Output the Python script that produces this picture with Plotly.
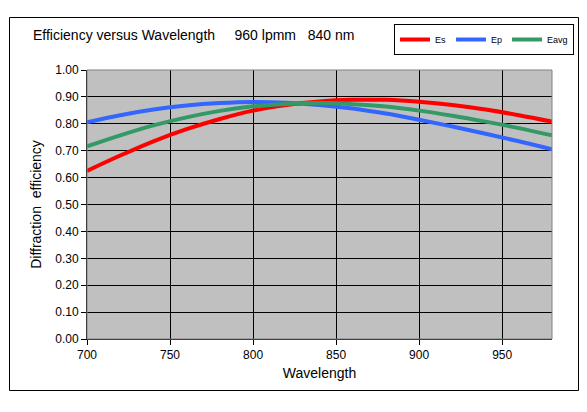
import plotly.graph_objects as go

wavelength = [700, 720, 740, 760, 780, 800, 820, 840, 860, 880, 900, 920, 940, 960, 980]
es = [0.625, 0.682, 0.735, 0.780, 0.818, 0.849, 0.870, 0.883, 0.889, 0.889, 0.882, 0.870, 0.853, 0.832, 0.808]
ep = [0.806, 0.832, 0.853, 0.868, 0.877, 0.881, 0.878, 0.870, 0.857, 0.838, 0.815, 0.790, 0.763, 0.735, 0.705]
eavg = [0.716, 0.757, 0.794, 0.824, 0.848, 0.865, 0.874, 0.877, 0.873, 0.864, 0.849, 0.830, 0.808, 0.784, 0.757]

x_ticks = [700, 750, 800, 850, 900, 950]
y_ticks = [0.0, 0.1, 0.2, 0.3, 0.4, 0.5, 0.6, 0.7, 0.8, 0.9, 1.0]

FONT = "Liberation Sans, Arial, sans-serif"

fig = go.Figure()
for name, vals, col in [("Es", es, "#FF0000"), ("Ep", ep, "#3366FF"), ("Eavg", eavg, "#339966")]:
    fig.add_trace(go.Scatter(x=wavelength, y=vals, name=name, mode="lines",
                             line=dict(color=col, width=4, shape="spline")))

# page draws the figure offset by 8px (body margin); work in reference coords
OFF = 8
W, H = 587 - 2 * OFF, 412 - 2 * OFF
L, T = 87 - OFF, 70 - OFF
R = W - (552 - OFF)
B = H - (339 - OFF)
pw, ph = W - L - R, H - T - B

def px(x):
    return (x - OFF - L) / pw

def py(y):
    return (H - B - (y - OFF)) / ph

fig.update_layout(
    width=W, height=H, autosize=False,
    margin=dict(l=L, r=R, t=T, b=B, autoexpand=False),
    paper_bgcolor="white",
    plot_bgcolor="#C0C0C0",
    font=dict(family=FONT, color="black", size=12),
    title=dict(text="Efficiency versus Wavelength     960 lpmm   840 nm",
               x=(33 - OFF) / W, xanchor="left", xref="container",
               y=1 - (35 - OFF) / H, yanchor="middle", yref="container",
               font=dict(size=14, family=FONT)),
    showlegend=True,
    legend=dict(orientation="h", x=px(574), xanchor="right", y=py(24), yanchor="top",
                bordercolor="black", borderwidth=1, bgcolor="white",
                font=dict(size=9, family=FONT), itemwidth=30,
                entrywidth=0, tracegroupgap=0),
    xaxis=dict(range=[700, 980], tickvals=x_ticks, ticktext=[str(v) for v in x_ticks],
               showgrid=True, gridcolor="black", gridwidth=1,
               ticks="outside", ticklen=5, tickcolor="black",
               showline=True, linecolor="black", linewidth=1,
               zeroline=False,
               title=dict(text="Wavelength", font=dict(size=14, family=FONT), standoff=6),
               tickfont=dict(size=12, family=FONT)),
    yaxis=dict(range=[0, 1.0], tickvals=y_ticks, tickformat=".2f",
               showgrid=True, gridcolor="black", gridwidth=1,
               ticks="outside", ticklen=5, tickcolor="black",
               showline=True, linecolor="black", linewidth=1,
               zeroline=False,
               title=dict(text="Diffraction  efficiency", font=dict(size=14, family=FONT), standoff=10),
               tickfont=dict(size=12, family=FONT)),
)

# plot area border (gray top/right)
fig.add_shape(type="rect", xref="paper", yref="paper", x0=0, y0=0, x1=1, y1=1,
              line=dict(color="#808080", width=1), layer="above")
# outer chart frame
fig.add_shape(type="rect", xref="paper", yref="paper",
              x0=px(9.5), x1=px(578.5), y0=py(390.5), y1=py(17.5),
              line=dict(color="black", width=1), layer="above")

fig.write_html("out.html")
